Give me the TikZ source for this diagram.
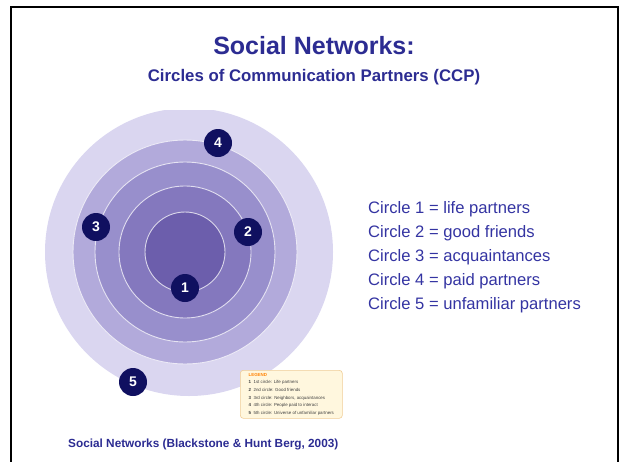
\documentclass[tikz,border=0pt]{standalone}
\usepackage{fontspec}
\setmainfont{Liberation Sans}
\usetikzlibrary{positioning}

\definecolor{titleblue}{RGB}{44,44,146}
\definecolor{textblue}{RGB}{52,52,162}
\definecolor{ringA}{RGB}{108,94,172}
\definecolor{ringB}{RGB}{132,120,190}
\definecolor{ringC}{RGB}{152,143,204}
\definecolor{ringD}{RGB}{178,170,219}
\definecolor{ringE}{RGB}{218,214,240}
\definecolor{badge}{RGB}{16,16,96}
\definecolor{legendfill}{RGB}{255,247,222}
\definecolor{legenddraw}{RGB}{240,205,150}

\tikzset{
    badge/.style={circle, fill=badge, text=white, inner sep=0pt,
        minimum size=28pt, font=\fontsize{14}{14}\selectfont\bfseries},
    circletext/.style={anchor=base west, text=textblue, inner sep=0pt,
        font=\fontsize{16.6}{16.6}\selectfont}
}

\begin{document}
\begin{tikzpicture}[x=1pt, y=-1pt]
    \useasboundingbox (0,0) rectangle (621,461);
    % 边框
    \draw[line width=2.6pt] (11,462) -- (11,7) -- (618,7) -- (618,462);
    % 标题
    \node[anchor=base, text=titleblue, font=\fontsize{25}{25}\selectfont\bfseries]
        (title) at (314,54) {Social Networks:};
    \node[anchor=base, text=titleblue, font=\fontsize{16.8}{16.8}\selectfont\bfseries]
        (subtitle) at (314,81) {Circles of Communication Partners (CCP)};
    % 同心圆
    \begin{scope}
        \clip (40,110) rectangle (345,432);
        \fill[ringE] (189,252) circle[radius=144pt];
        \foreach \r/\c in {112/ringD, 90/ringC, 66/ringB, 40/ringA}
            \filldraw[fill=\c, draw=white!75!\c, line width=0.9pt]
                (185,252) circle[radius=\r pt];
    \end{scope}
    % 编号
    \node[badge] (c1) at (185,288) {1};
    \node[badge] (c2) at (248,232) {2};
    \node[badge] (c3) at (96,227) {3};
    \node[badge] (c4) at (218,143) {4};
    \node[badge] (c5) at (133,382) {5};
    % 图例
    \node[draw=legenddraw, fill=legendfill, rounded corners=3pt, line width=0.6pt,
        anchor=north west, minimum width=102pt, minimum height=48pt,
        inner sep=2pt, align=left, text=black!75,
        font=\fontsize{4.4}{7.6}\selectfont] (legend) at (240,370)
        {\textcolor{orange}{\bfseries LEGEND}\\
         \textbf{1}\ \ 1st circle: Life partners\\
         \textbf{2}\ \ 2nd circle: Good friends\\
         \textbf{3}\ \ 3rd circle: Neighbors, acquaintances\\
         \textbf{4}\ \ 4th circle: People paid to interact\\
         \textbf{5}\ \ 5th circle: Universe of unfamiliar partners};
    % 右侧说明
    \node[circletext] (l1) at (368,213) {Circle 1 = life partners};
    \node[circletext] (l2) at (368,237) {Circle 2 = good friends};
    \node[circletext] (l3) at (368,261) {Circle 3 = acquaintances};
    \node[circletext] (l4) at (368,285) {Circle 4 = paid partners};
    \node[circletext] (l5) at (368,309) {Circle 5 = unfamiliar partners};
    % 出处
    \node[anchor=base west, inner sep=0pt, text=titleblue,
        font=\fontsize{11.8}{11.8}\selectfont\bfseries]
        (source) at (68,447) {Social Networks (Blackstone \& Hunt Berg, 2003)};
\end{tikzpicture}
\end{document}
